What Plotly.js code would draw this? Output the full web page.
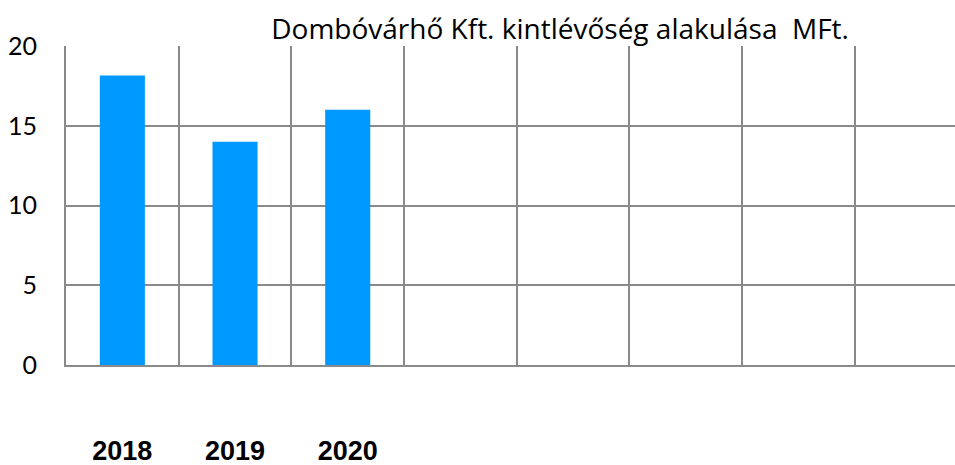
<!DOCTYPE html>
<html>
<head>
<meta charset="utf-8">
<script src="https://cdn.plot.ly/plotly-3.0.1.min.js"></script>
<style>html,body{margin:0;padding:0;background:#fff;}#chart{width:955px;height:465px;}</style>
</head>
<body>
<div id="chart"></div>
<script>
// Categories (3 years with data, 5 empty slots as in the original chart)
const categories = ['2018', '2019', '2020', ' ', '  ', '   ', '    ', '     '];
const values = [18.15, 14.0, 16.0, null, null, null, null, null];
const tickLabels = ['2018', '2019', '2020', '', '', '', '', ''];
const yTicks = [0, 5, 10, 15, 20];
const titleText = 'Dombóvárhő Kft. kintlévőség alakulása  MFt.';

const gridColor = '#8a8a8a';

const data = [{
  type: 'bar',
  x: categories,
  y: values,
  width: 0.4,
  marker: {color: '#0099FF', line: {width: 0}},
  hoverinfo: 'skip'
}];

const layout = {
  width: 955,
  height: 465,
  margin: {l: 66, r: 0, t: 46, b: 100, pad: 0},
  paper_bgcolor: '#ffffff',
  plot_bgcolor: '#ffffff',
  showlegend: false,
  title: {
    text: titleText,
    font: {family: 'Open Sans, sans-serif', size: 28, color: '#000000'},
    xref: 'container', yref: 'container',
    x: 0.5865, xanchor: 'center',
    y: 0.938, yanchor: 'middle'
  },
  xaxis: {
    type: 'category',
    categoryorder: 'array',
    categoryarray: categories,
    tickmode: 'array',
    tickvals: categories,
    ticktext: tickLabels,
    range: [-0.5, 7.389],
    tickson: 'boundaries',
    ticks: '',
    showgrid: true,
    gridcolor: gridColor,
    gridwidth: 2,
    showline: true,
    linecolor: gridColor,
    linewidth: 2,
    zeroline: false,
    ticklabelstandoff: 61,
    tickfont: {family: 'Liberation Sans, Arial, sans-serif', size: 27, color: '#000000', weight: 'bold'}
  },
  yaxis: {
    range: [0, 20],
    tickmode: 'array',
    tickvals: yTicks,
    ticktext: yTicks.map(String),
    ticks: '',
    showgrid: true,
    gridcolor: gridColor,
    gridwidth: 2,
    showline: true,
    linecolor: gridColor,
    linewidth: 2,
    zeroline: false,
    ticklabelstandoff: 22,
    tickfont: {family: 'Lato, sans-serif', size: 25, color: '#000000'}
  },
  bargap: 0.6
};

Plotly.newPlot('chart', data, layout, {displayModeBar: false, staticPlot: true});
</script>
</body>
</html>
